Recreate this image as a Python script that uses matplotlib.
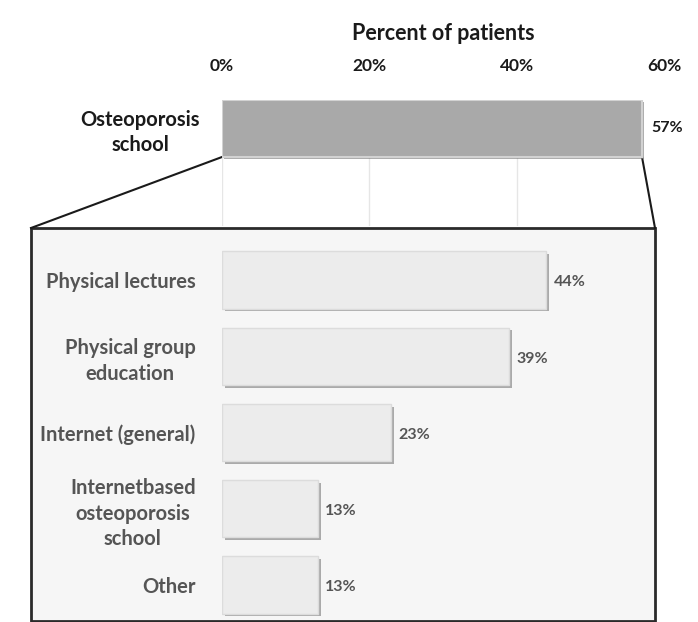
import matplotlib
matplotlib.use("Agg")
import matplotlib.pyplot as plt
from matplotlib.patches import Rectangle
from matplotlib.lines import Line2D
import matplotlib.patheffects as pe

# ---- data ----
top_category = ["Osteoporosis\nschool"]
top_values = [57]
sub_categories = ["Physical lectures", "Physical group\neducation", "Internet (general)",
                  "Internetbased\nosteoporosis\nschool", "Other"]
sub_values = [44, 39, 23, 13, 13]
x_ticks = [0, 20, 40, 60]
x_tick_labels = ["0%", "20%", "40%", "60%"]
axis_title = "Percent of patients"

plt.rcParams['font.family'] = ['Lato', 'DejaVu Sans']

W, H = 698, 622
fig = plt.figure(figsize=(W / 100, H / 100), dpi=100)
fig.patch.set_facecolor('white')

def fx(px):
    return px / W

def fy(py):
    return 1 - py / H

X0, X60 = 222, 664

# ---- box frame ----
box = Rectangle((fx(31), fy(621)), fx(655) - fx(31), fy(228) - fy(621),
                transform=fig.transFigure, facecolor='#f6f6f6', edgecolor='#2a2a2a',
                lw=2, zorder=-5)
fig.patches.append(box)
fig.lines.append(Line2D([fx(222), fx(31)], [fy(157), fy(228)], transform=fig.transFigure,
                        color='#1a1a1a', lw=1.5, zorder=-4))
fig.lines.append(Line2D([fx(642), fx(655)], [fy(157), fy(228)], transform=fig.transFigure,
                        color='#1a1a1a', lw=1.5, zorder=-4))

# ---- top axes ----
ax1 = fig.add_axes([fx(X0), fy(226), fx(X60) - fx(X0), fy(100) - fy(226)])
ax1.set_zorder(2)
ax1.set_xlim(0, 60)
ax1.set_ylim(1.375, -0.40)
ax1.patch.set_visible(False)
for s in ax1.spines.values():
    s.set_visible(False)
for xv in [0, 20, 40]:
    ax1.axvline(xv, color='#e6e6e6', lw=1, zorder=0)
ax1.barh([0], top_values, height=0.8, color='#a9a9a9', edgecolor='#d2d2d2', lw=1.5, zorder=2,
         path_effects=[pe.withSimplePatchShadow(offset=(1.5, -1.5), shadow_rgbFace='#777777', alpha=0.6)])
ax1.set_yticks([0])
ax1.set_yticklabels(top_category, fontsize=14.5, fontweight='bold', color='#1a1a1a',
                    multialignment='center', linespacing=1.3)
ax1.tick_params(axis='y', length=0, pad=16)
ax1.xaxis.tick_top()
ax1.set_xticks(x_ticks)
ax1.set_xticklabels(x_tick_labels, fontsize=12.5, fontweight='bold', color='#1a1a1a')
ax1.tick_params(axis='x', length=0, pad=19)
ax1.set_xlabel(axis_title, fontsize=15.5, fontweight='bold', color='#1a1a1a', labelpad=13)
ax1.xaxis.set_label_position('top')
for i, v in enumerate(top_values):
    ax1.text(v + 1.3, i, f"{v}%", va='center', ha='left', fontsize=11.5,
             fontweight='bold', color='#1a1a1a')

# ---- lower axes ----
ax2 = fig.add_axes([fx(X0), fy(621), fx(X60) - fx(X0), fy(230) - fy(621)])
ax2.set_zorder(2)
ax2.set_xlim(0, 60)
ax2.patch.set_visible(False)
for s in ax2.spines.values():
    s.set_visible(False)
ypos = list(range(len(sub_categories)))
ax2.set_ylim(4.472, -0.656)
ax2.barh(ypos, sub_values, height=0.75, color='#ececec', edgecolor='#dcdcdc', lw=1, zorder=2,
         path_effects=[pe.withSimplePatchShadow(offset=(2, -2), shadow_rgbFace='#8a8a8a', alpha=0.7)])
ax2.set_yticks(ypos)
ax2.set_yticklabels(sub_categories, fontsize=14.5, fontweight='bold', color='#555555',
                    multialignment='center', linespacing=1.35)
ax2.tick_params(axis='y', length=0, pad=19)
ax2.set_xticks([])
for i, v in enumerate(sub_values):
    ax2.text(v + 1.0, i + 0.03, f"{v}%", va='center', ha='left', fontsize=11.5,
             fontweight='bold', color='#555555')

fig.savefig("out.png", dpi=100, facecolor='white')
